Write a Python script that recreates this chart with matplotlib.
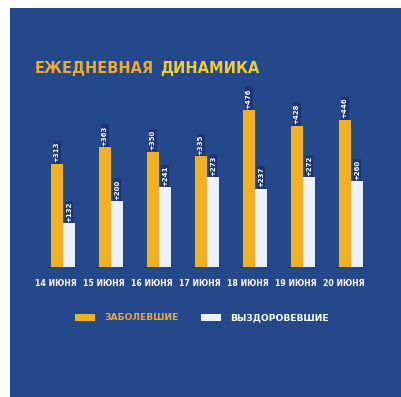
import matplotlib.pyplot as plt
import matplotlib.patches as patches
import numpy as np

# ==== DATA ====
days = ["14 ИЮНЯ", "15 ИЮНЯ", "16 ИЮНЯ", "17 ИЮНЯ", "18 ИЮНЯ", "19 ИЮНЯ", "20 ИЮНЯ"]
sick = [313, 363, 350, 335, 476, 428, 446]
recovered = [132, 200, 241, 273, 237, 272, 260]

bg = "#24488a"
orange = "#f2b024"
white = "#eef1f6"
navy = "#1d3575"

W, H = 401, 397
fig = plt.figure(figsize=(W / 100, H / 100), dpi=100)
fig.patch.set_facecolor("white")

# blue panel (white border on top and left)
fig.add_artist(patches.Rectangle((10 / W, 0), 1, 1 - 8 / H, transform=fig.transFigure,
                                 facecolor=bg, edgecolor="none", zorder=0))

# axes in pixel units
left, right, bottom, top = 30, 390, 267, 80
ax = fig.add_axes([left / W, 1 - bottom / H, (right - left) / W, (bottom - top) / H])
ax.set_facecolor("none")
ax.set_xlim((left - 63) / 48, (right - 63) / 48)
ax.set_ylim(0, (bottom - top) / 0.33)
for s in ax.spines.values():
    s.set_visible(False)

x = np.arange(len(days))
bw = 0.26
b1 = ax.bar(x - bw / 2, sick, bw, color=orange, label="ЗАБОЛЕВШИЕ", zorder=2)
b2 = ax.bar(x + bw / 2, recovered, bw, color=white, label="ВЫЗДОРОВЕВШИЕ", zorder=2)

for xi, v in zip(x, sick):
    ax.text(xi - bw / 2, v + 4, f"+{v}", rotation=90, ha="center", va="bottom",
            color="white", fontsize=5, fontweight="bold",
            bbox=dict(facecolor=navy, edgecolor="none", pad=0.8), zorder=3)
for xi, v in zip(x, recovered):
    ax.text(xi + bw / 2, v + 4, f"+{v}", rotation=90, ha="center", va="bottom",
            color="white", fontsize=5, fontweight="bold",
            bbox=dict(facecolor=navy, edgecolor="none", pad=0.8), zorder=3)

ax.set_yticks([])
ax.set_xticks(x - 0.14)
ax.set_xticklabels(days, color="white", fontsize=5.6, fontweight="bold")
ax.tick_params(axis="x", length=0, pad=9)

# title
fig.text(35 / W, 1 - 68 / H, "ЕЖЕДНЕВНАЯ", color="#eeaa2e", fontsize=10.5,
         fontweight="bold", ha="left", va="center")
fig.text(160 / W, 1 - 68 / H, "ДИНАМИКА", color="#f0cc3a", fontsize=10.5,
         fontweight="bold", ha="left", va="center")

# legend
leg = fig.legend(handles=[b1, b2], loc="center", bbox_to_anchor=(202 / W, 1 - 318 / H),
                 ncol=2, frameon=False, fontsize=6.6, handlelength=2.2, handleheight=0.8,
                 columnspacing=2.4, handletextpad=1.0)
for t, c in zip(leg.get_texts(), ["#e6a84a", "white"]):
    t.set_color(c)
    t.set_fontweight("bold")

fig.savefig("out.png", dpi=100, facecolor=fig.get_facecolor())
